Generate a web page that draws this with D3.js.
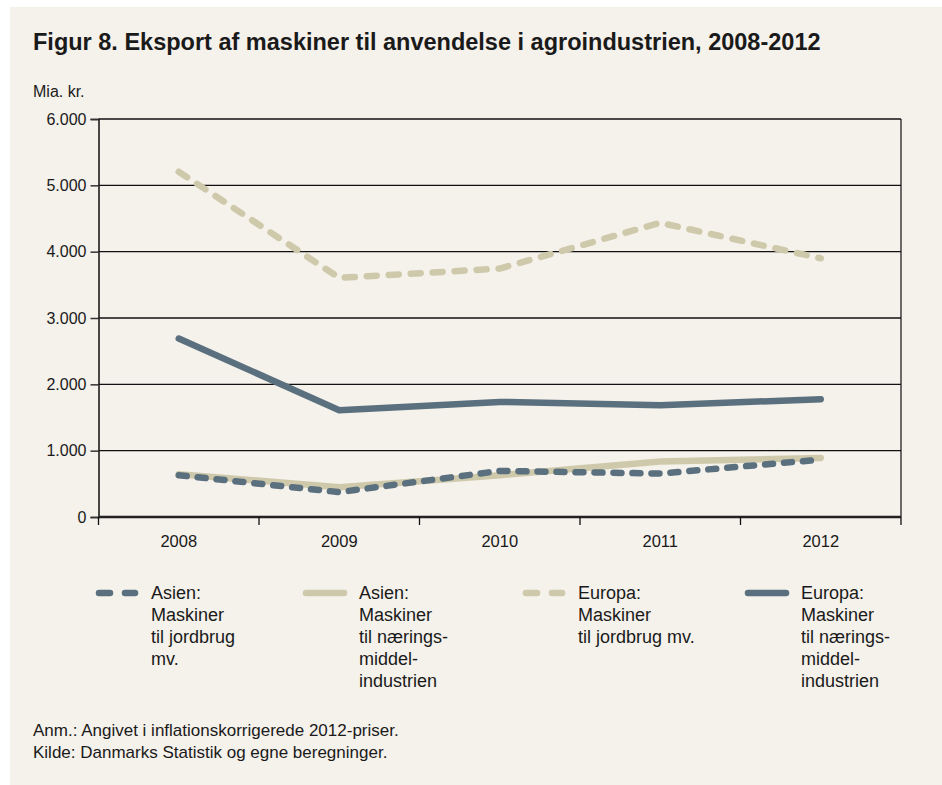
<!DOCTYPE html>
<html>
<head>
<meta charset="utf-8">
<script src="https://cdn.jsdelivr.net/npm/d3@7"></script>
<style>
  body { margin: 0; background: #fff; }
  text { font-family: "Liberation Sans", Arial, sans-serif; fill: #1a1a1a; }
</style>
</head>
<body>
<svg id="chart"></svg>
<script>
// data
var years = ["2008", "2009", "2010", "2011", "2012"];
var yTicks = [0, 1000, 2000, 3000, 4000, 5000, 6000];

var asienJordbrug = [630, 375, 695, 655, 865];
var asienNaering = [645, 450, 630, 835, 890];
var europaJordbrug = [5205, 3605, 3745, 4435, 3900];
var europaNaering = [2690, 1610, 1735, 1685, 1775];

var seriesNames = [
  ["Asien:", "Maskiner", "til jordbrug", "mv."],
  ["Asien:", "Maskiner", "til nærings-", "middel-", "industrien"],
  ["Europa:", "Maskiner", "til jordbrug mv."],
  ["Europa:", "Maskiner", "til nærings-", "middel-", "industrien"]
];

var dark = "#5b707e", light = "#cfc9ab";

var series = [
  {values: asienNaering, color: light, dash: null},
  {values: europaNaering, color: dark, dash: null},
  {values: europaJordbrug, color: light, dash: "10,12"},
  {values: asienJordbrug, color: dark, dash: "8,11"}
];
// legend order differs from drawing order
var legendStyle = [
  {color: dark, dash: "8,11"},
  {color: light, dash: null},
  {color: light, dash: "10,12"},
  {color: dark, dash: null}
];

var W = 942, H = 785;
var svg = d3.select("#chart").attr("width", W).attr("height", H);

// panel background
svg.append("rect")
  .attr("x", 10).attr("y", 7)
  .attr("width", W - 10).attr("height", H - 7)
  .attr("fill", "#f5f1eb");

var margin = {left: 98.5, right: 41, top: 119, bottom: 268};
var width = W - margin.left - margin.right,
    height = H - margin.top - margin.bottom;

svg.append("text")
  .attr("x", 33).attr("y", 50)
  .style("font-size", "23.5px").style("font-weight", "bold")
  .text("Figur 8. Eksport af maskiner til anvendelse i agroindustrien, 2008-2012");

svg.append("text")
  .attr("x", 33).attr("y", 97)
  .style("font-size", "16px")
  .text("Mia. kr.");

var g = svg.append("g").attr("transform", "translate(" + margin.left + "," + margin.top + ")");

var x = d3.scaleBand().domain(years).range([0, width]);
var y = d3.scaleLinear().domain([0, 6000]).range([height, 0]);

// gridlines
g.selectAll(".grid")
  .data(yTicks.filter(function(d){ return d > 0; }))
  .enter().append("line")
  .attr("x1", 0).attr("x2", width)
  .attr("y1", function(d){ return y(d); })
  .attr("y2", function(d){ return y(d); })
  .attr("stroke", "#111").attr("stroke-width", 1.3);

// right border
g.append("line")
  .attr("x1", width).attr("x2", width)
  .attr("y1", 0).attr("y2", height)
  .attr("stroke", "#111").attr("stroke-width", 1.2);

var fmt = function(d){ return d === 0 ? "0" : d3.format(",")(d).replace(/,/g, "."); };

var yAxis = g.append("g")
  .call(d3.axisLeft(y).tickValues(yTicks).tickSize(8).tickFormat(fmt));
yAxis.select(".domain").attr("stroke", "#111").attr("stroke-width", 1.5);
yAxis.selectAll(".tick line").attr("stroke", "#333").attr("stroke-width", 1.5);
yAxis.selectAll(".tick text")
  .attr("x", -12)
  .style("font-size", "16px")
  .style("font-family", "Liberation Sans, Arial, sans-serif")
  .attr("fill", "#1a1a1a");

// x axis with ticks between categories
var xb = g.append("g").attr("transform", "translate(0," + height + ")");
xb.append("line").attr("x1", 0).attr("x2", width)
  .attr("stroke", "#222").attr("stroke-width", 2.5);
var bounds = years.map(function(d){ return x(d); }).concat([width]);
xb.selectAll(".xt").data(bounds).enter().append("line")
  .attr("x1", function(d){ return d; }).attr("x2", function(d){ return d; })
  .attr("y1", 0).attr("y2", 8)
  .attr("stroke", "#111").attr("stroke-width", 1.3);
xb.selectAll(".xl").data(years).enter().append("text")
  .attr("x", function(d){ return x(d) + x.bandwidth() / 2; })
  .attr("y", 30)
  .attr("text-anchor", "middle")
  .style("font-size", "16.5px")
  .text(function(d){ return d; });

var line = d3.line()
  .x(function(d, i){ return x(years[i]) + x.bandwidth() / 2; })
  .y(function(d){ return y(d); });

g.selectAll(".series")
  .data(series)
  .enter().append("path")
  .attr("d", function(d){ return line(d.values); })
  .attr("fill", "none")
  .attr("stroke", function(d){ return d.color; })
  .attr("stroke-width", 6.5)
  .attr("stroke-linecap", "round")
  .attr("stroke-linejoin", "round")
  .attr("stroke-dasharray", function(d){ return d.dash; });

// legend
var legendX = [95, 303, 522, 745];
var leg = svg.selectAll(".legend")
  .data(seriesNames)
  .enter().append("g")
  .attr("transform", function(d, i){ return "translate(" + legendX[i] + ",599)"; });

leg.append("line")
  .attr("x1", function(d, i){ return legendStyle[i].dash ? 4 : 3; })
  .attr("x2", function(d, i){ return legendStyle[i].dash ? 40 : 41; })
  .attr("y1", -6).attr("y2", -6)
  .attr("stroke", function(d, i){ return legendStyle[i].color; })
  .attr("stroke-width", 6.5)
  .attr("stroke-linecap", "round")
  .attr("stroke-dasharray", function(d, i){ return legendStyle[i].dash ? "11,15" : null; });

leg.append("text")
  .style("font-size", "18px")
  .selectAll("tspan")
  .data(function(d){ return d; })
  .enter().append("tspan")
  .attr("x", 56)
  .attr("dy", function(d, i){ return i === 0 ? 0 : 22; })
  .text(function(d){ return d; });

svg.append("text")
  .attr("x", 33).attr("y", 736)
  .style("font-size", "17px")
  .text("Anm.: Angivet i inflationskorrigerede 2012-priser.");
svg.append("text")
  .attr("x", 33).attr("y", 758)
  .style("font-size", "17px")
  .text("Kilde: Danmarks Statistik og egne beregninger.");
</script>
</body>
</html>
